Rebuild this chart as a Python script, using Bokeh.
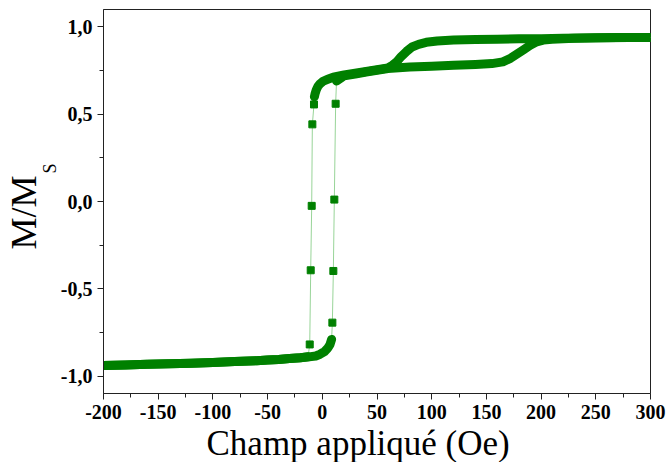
from bokeh.plotting import figure
from bokeh.models import FixedTicker, CustomJSTickFormatter, Range1d, Title
from bokeh.embed import file_html
from bokeh.resources import INLINE

# ---- data ----
# descending branch (field decreasing from +300 Oe)
desc_upper_H = [300, 280, 260, 240, 220, 200, 180, 160, 140, 120, 105, 95, 88, 82, 77, 72, 68, 64, 60,
                50, 40, 30, 20, 10, 5, 1, -2, -4, -5.5, -6.5, -7.2]
desc_upper_M = [0.94, 0.94, 0.938, 0.937, 0.935, 0.933, 0.932, 0.93, 0.928, 0.925, 0.92, 0.912, 0.90,
                0.885, 0.86, 0.83, 0.80, 0.78, 0.765, 0.755, 0.745, 0.735, 0.725, 0.712, 0.70, 0.69,
                0.675, 0.66, 0.64, 0.62, 0.60]
desc_jump_H = [-7.6, -9.1, -9.7, -10.6, -11.5]
desc_jump_M = [0.556, 0.442, -0.025, -0.394, -0.819]
desc_lower_H = [-13, -20, -30, -40, -50, -60, -80, -100, -120, -140, -160, -180, -200]
desc_lower_M = [-0.89, -0.895, -0.90, -0.905, -0.908, -0.912, -0.917, -0.922, -0.927, -0.93, -0.933,
                -0.937, -0.94]

# ascending branch (field increasing from -200 Oe)
asc_lower_H = [-200, -180, -160, -140, -120, -100, -80, -60, -50, -40, -30, -20, -12, -6, -2, 2, 5, 7, 8.5]
asc_lower_M = [-0.94, -0.937, -0.933, -0.93, -0.927, -0.922, -0.917, -0.912, -0.908, -0.905, -0.90,
               -0.895, -0.89, -0.885, -0.875, -0.86, -0.84, -0.82, -0.79]
asc_jump_H = [9.2, 10.1, 11.0, 12.2]
asc_jump_M = [-0.694, -0.398, 0.011, 0.56]
asc_upper_H = [13, 20, 30, 40, 50, 60, 80, 100, 120, 140, 155, 165, 172, 178, 184, 190, 196, 202, 210,
               230, 250, 270, 300]
asc_upper_M = [0.69, 0.72, 0.73, 0.742, 0.752, 0.762, 0.77, 0.775, 0.78, 0.785, 0.79, 0.80, 0.82, 0.845,
               0.87, 0.895, 0.915, 0.925, 0.93, 0.935, 0.938, 0.94, 0.94]

x_ticks = [-200, -150, -100, -50, 0, 50, 100, 150, 200, 250, 300]
x_minor = [-175, -125, -75, -25, 25, 75, 125, 175, 225, 275]
y_ticks = [-1.0, -0.5, 0.0, 0.5, 1.0]
y_minor = [-0.75, -0.25, 0.25, 0.75]

x_title = "Champ appliqué (Oe)"
y_title = "M/M"
y_title_sub = "S"

GREEN = "#008000"
LIGHT = "#98d498"
FONT = "Liberation Serif"

p = figure(frame_width=547, frame_height=384,
           x_range=Range1d(-200, 300), y_range=Range1d(-1.1, 1.1),
           output_backend="svg", toolbar_location=None,
           min_border_left=103, min_border_right=16, min_border_top=9, min_border_bottom=10)
p.background_fill_color = "white"
p.border_fill_color = "white"
p.outline_line_color = "#222222"
p.outline_line_width = 1
p.grid.visible = False

# thin connecting lines
p.line(desc_upper_H + desc_jump_H + desc_lower_H, desc_upper_M + desc_jump_M + desc_lower_M,
       line_color=LIGHT, line_width=1)
p.line(asc_lower_H + asc_jump_H + asc_upper_H, asc_lower_M + asc_jump_M + asc_upper_M,
       line_color=LIGHT, line_width=1)

# dense (overlapping markers) portions
for hx, my in [(desc_upper_H, desc_upper_M), (desc_lower_H, desc_lower_M),
               (asc_lower_H, asc_lower_M), (asc_upper_H, asc_upper_M)]:
    p.line(hx, my, line_color=GREEN, line_width=9, line_join="round", line_cap="round")

# sparse markers during the switching
p.scatter(desc_jump_H, desc_jump_M, marker="square", size=7, fill_color=GREEN, line_color=GREEN)
p.scatter(asc_jump_H, asc_jump_M, marker="square", size=7, fill_color=GREEN, line_color=GREEN)

for ax in (p.xaxis[0], p.yaxis[0]):
    ax.axis_line_color = "#222222"
    ax.major_tick_line_color = "#222222"
    ax.minor_tick_line_color = "#222222"
    ax.major_tick_in = 0
    ax.major_tick_out = 6
    ax.minor_tick_in = 0
    ax.minor_tick_out = 4
    ax.major_label_text_font = FONT
    ax.major_label_text_font_style = "bold"
    ax.major_label_text_font_size = "20px"
    ax.major_label_text_color = "black"
    ax.major_label_standoff = 5

p.xaxis.ticker = FixedTicker(ticks=x_ticks, minor_ticks=x_minor)
p.xaxis.formatter = CustomJSTickFormatter(code="return tick.toFixed(0);")
p.yaxis.ticker = FixedTicker(ticks=y_ticks, minor_ticks=y_minor)
p.yaxis.formatter = CustomJSTickFormatter(code="return tick.toFixed(1).replace('.', ',');")


def side_title(text, size, offset, standoff):
    return Title(text=text, align="left", offset=offset, standoff=standoff,
                 text_font=FONT, text_font_size=size, text_font_style="normal",
                 text_color="black")


p.add_layout(side_title(y_title_sub, "18px", 220, -4), "left")
p.add_layout(side_title(y_title, "36px", 144, -8), "left")
p.add_layout(side_title(x_title, "35px", 103, 0), "below")

open("out.html", "w").write(file_html(p, INLINE))
